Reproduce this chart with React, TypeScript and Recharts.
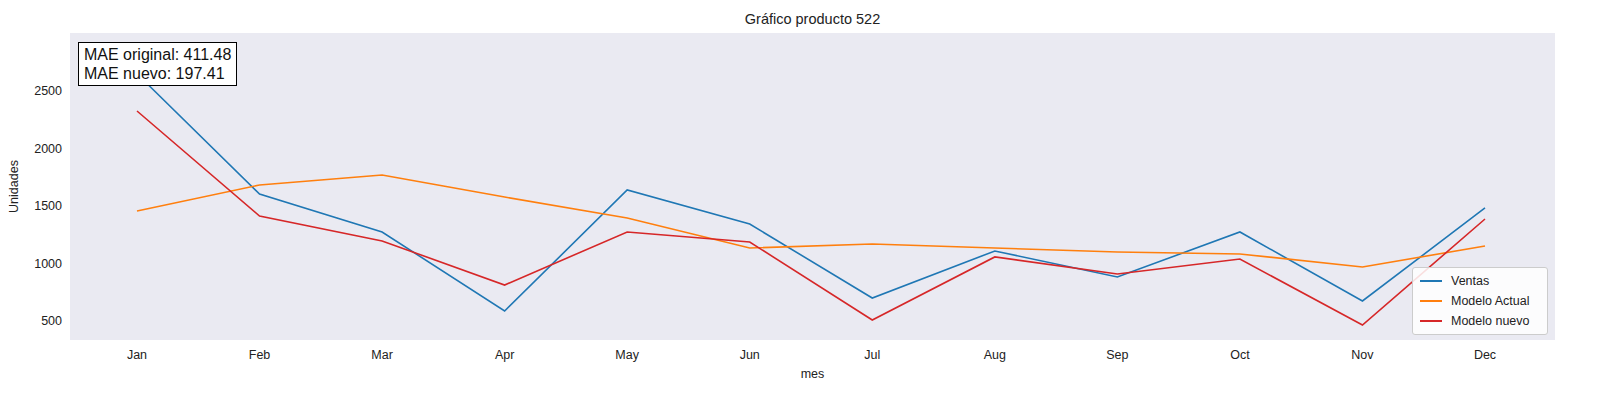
import React from "react";
import { LineChart, Line, XAxis, YAxis, CartesianGrid, Label } from "recharts";

const months = ["Jan","Feb","Mar","Apr","May","Jun","Jul","Aug","Sep","Oct","Nov","Dec"];
const ventas = [2650,1604,1274,587,1639,1343,700,1109,883,1274,674,1483];
const modeloActual = [1457,1683,1770,1578,1396,1135,1170,1135,1100,1083,970,1152];
const modeloNuevo = [2326,1413,1196,813,1274,1187,509,1057,909,1039,465,1387];
const yTicks = [500,1000,1500,2000,2500];

const data = months.map((m, i) => ({ m, v: ventas[i], a: modeloActual[i], n: modeloNuevo[i] }));
const font = "'Liberation Sans', Arial, sans-serif";
const series = [
  { key: "v", name: "Ventas", color: "#1f77b4" },
  { key: "a", name: "Modelo Actual", color: "#ff7f0e" },
  { key: "n", name: "Modelo nuevo", color: "#d62728" },
];

export default function App() {
  return (
    <div style={{ position: "absolute", left: 0, top: 0, width: 1600, height: 400, background: "#fff", fontFamily: font }}>
      <LineChart width={1600} height={400} data={data} margin={{ top: 33, right: 45, bottom: 0, left: 0 }}>
        <CartesianGrid fill="#eaeaf2" horizontal={false} vertical={false} />
        <XAxis dataKey="m" scale="point" padding={{ left: 67, right: 70 }} height={60} tickLine={false} axisLine={false}
          tick={{ fontSize: 12.5, fill: "#222", fontFamily: font }} tickMargin={4}>
          <Label value="mes" position="insideBottom" offset={22} style={{ fontSize: 12.5, fill: "#222", fontFamily: font }} />
        </XAxis>
        <YAxis domain={[335, 3004]} ticks={yTicks} width={70} tickLine={false} axisLine={false} allowDataOverflow
          tick={{ fontSize: 12.5, fill: "#222", fontFamily: font }}>
          <Label value="Unidades" angle={-90} position="insideLeft" offset={14} style={{ fontSize: 12.5, fill: "#222", fontFamily: font, textAnchor: "middle" }} />
        </YAxis>
        {series.map(s => (
          <Line key={s.key} dataKey={s.key} name={s.name} stroke={s.color} strokeWidth={1.6} dot={false} isAnimationActive={false} type="linear" />
        ))}
      </LineChart>
      <div style={{ position: "absolute", top: 11, left: 0, width: 1625, textAlign: "center", fontSize: 14.5, color: "#222" }}>Gráfico producto 522</div>
      <div style={{ position: "absolute", left: 78, top: 42, border: "1px solid #000", background: "#fff", padding: "2px 5px", fontSize: 16, lineHeight: "19px", color: "#111" }}>
        MAE original: 411.48<br />MAE nuevo: 197.41
      </div>
      <div style={{ position: "absolute", left: 1412, top: 267, width: 134, border: "1px solid #ccc", borderRadius: 3, background: "rgba(255,255,255,0.85)", padding: "3px 0", fontSize: 12.5, color: "#222" }}>
        {series.map(s => (
          <div key={s.key} style={{ display: "flex", alignItems: "center", height: 20 }}>
            <div style={{ width: 22, height: 2, background: s.color, marginLeft: 7, marginRight: 9 }} />
            {s.name}
          </div>
        ))}
      </div>
    </div>
  );
}
